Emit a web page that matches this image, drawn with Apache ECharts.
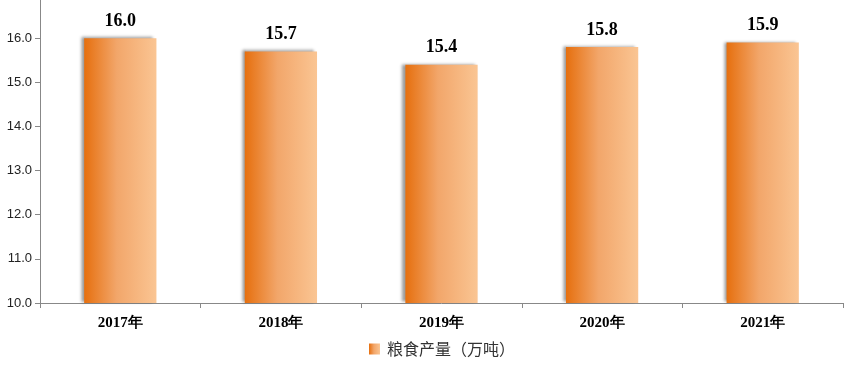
<!DOCTYPE html>
<html><head><meta charset="utf-8">
<script src="https://cdn.jsdelivr.net/npm/echarts@6/dist/echarts.min.js"></script>
<style>html,body{margin:0;padding:0;background:#fff}#c{width:850px;height:365px}</style>
</head><body><div id="c"></div>
<script>
const categories = ['2017年','2018年','2019年','2020年','2021年'];
const values = [16.0, 15.7, 15.4, 15.8, 15.9];
const seriesName = '粮食产量（万吨）';

const grad = new echarts.graphic.LinearGradient(0,0,1,0,[
  {offset:0,color:'#E66F0E'},
  {offset:0.45,color:'#F2A66A'},
  {offset:1,color:'#FAC593'}
]);
const chart = echarts.init(document.getElementById('c'));
chart.setOption({
  animation:false,
  grid:{left:40,right:7,top:-6,bottom:62,outerBoundsMode:'none',containLabel:false},
  legend:{bottom:3,left:364,itemWidth:11,itemHeight:11,itemGap:10,
    textStyle:{fontFamily:'Noto Sans CJK SC',fontSize:16,color:'#333',padding:[0,0,0,2]},
    data:[{name:seriesName,icon:'rect'}]},
  xAxis:{type:'category',data:categories,
    axisLine:{lineStyle:{color:'#888'}},
    axisTick:{show:true,length:5,lineStyle:{color:'#888'}},
    axisLabel:{fontFamily:'Liberation Serif',fontWeight:'bold',fontSize:15,color:'#000',margin:13}},
  yAxis:{type:'value',min:10,max:17,interval:1,
    axisLine:{show:true,lineStyle:{color:'#888'}},
    axisTick:{show:true,length:5,lineStyle:{color:'#888'}},
    splitLine:{show:false},
    axisLabel:{formatter:v=>v.toFixed(1),fontFamily:'Liberation Sans',fontSize:13,color:'#222',margin:8}},
  series:[{name:seriesName,type:'bar',data:values,barWidth:'45%',
    itemStyle:{color:grad,shadowColor:'rgba(0,0,0,0.4)',shadowBlur:3,shadowOffsetX:-3,shadowOffsetY:-1},
    label:{show:true,position:'top',distance:8,formatter:p=>p.value.toFixed(1),
      fontFamily:'Liberation Serif',fontWeight:'bold',fontSize:18,color:'#000'}}]
});
</script></body></html>
